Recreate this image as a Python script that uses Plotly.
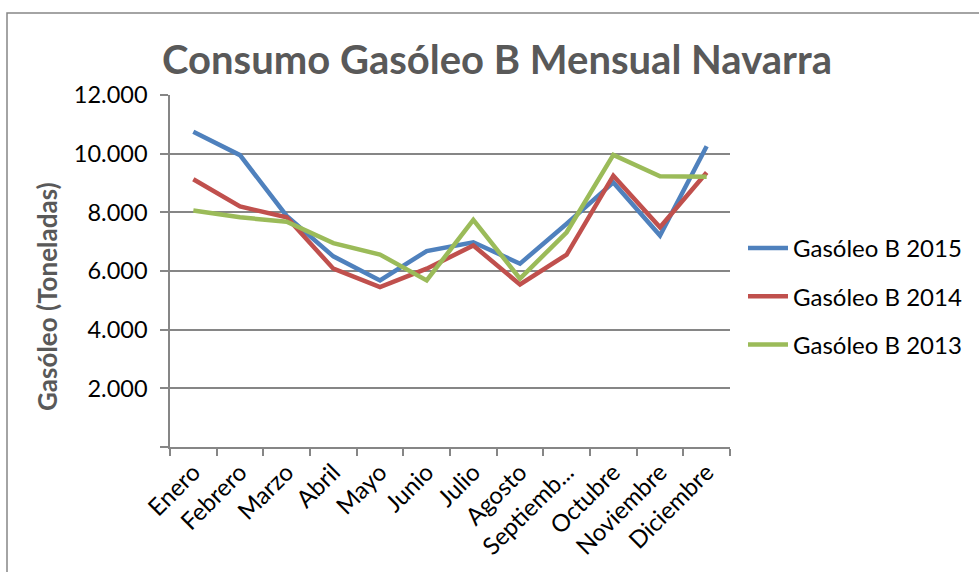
import plotly.graph_objects as go

# Monthly consumption of diesel B (tonnes) in Navarra
months = ["Enero", "Febrero", "Marzo", "Abril", "Mayo", "Junio", "Julio",
          "Agosto", "Septiembre", "Octubre", "Noviembre", "Diciembre"]
month_labels = ["Enero", "Febrero", "Marzo", "Abril", "Mayo", "Junio", "Julio",
                "Agosto", "Septiemb...", "Octubre", "Noviembre", "Diciembre"]

gasoleo_2015 = [10750, 9950, 7880, 6500, 5680, 6680, 6980, 6250, 7610, 9020, 7210, 10250]
gasoleo_2014 = [9130, 8200, 7830, 6080, 5450, 6080, 6870, 5540, 6560, 9250, 7490, 9360]
gasoleo_2013 = [8060, 7830, 7680, 6950, 6560, 5680, 7740, 5740, 7320, 9960, 9230, 9210]

y_ticks = [0, 2000, 4000, 6000, 8000, 10000, 12000]
y_tick_text = ["", "2.000", "4.000", "6.000", "8.000", "10.000", "12.000"]

series = [
    ("Gasóleo B 2015", gasoleo_2015, "#4F81BD"),
    ("Gasóleo B 2014", gasoleo_2014, "#C0504D"),
    ("Gasóleo B 2013", gasoleo_2013, "#9BBB59"),
]

FONT = "Lato"
GRID = "#868686"

fig = go.Figure()
for name, values, color in series:
    fig.add_trace(go.Scatter(
        x=months, y=values, name=name, mode="lines",
        legendgroup=name,
        line=dict(color=color, width=4.5),
    ))

W, H = 979, 572
L, R, T, B = 170, 249, 95, 125
pw, ph = W - L - R, H - T - B

def px_x(p):
    return (p - L) / pw

def px_y(p):
    return 1 - (p - T) / ph

fig.update_layout(
    width=W, height=H,
    margin=dict(l=L, r=R, t=T, b=B),
    paper_bgcolor="white", plot_bgcolor="white",
    font=dict(family=FONT, color="black", size=23),
    title=dict(
        text="<b>Consumo Gasóleo B Mensual Navarra</b>",
        font=dict(family=FONT, size=40, color="#595959"),
        xref="paper", x=px_x(497), xanchor="center",
        yref="container", y=1 - 60 / H, yanchor="middle",
    ),
    showlegend=True,
    legend=dict(
        x=px_x(743), xanchor="left",
        y=px_y(226), yanchor="top",
        font=dict(family=FONT, size=24, color="black"),
        tracegroupgap=14,
        itemwidth=40,
        borderwidth=0,
        bgcolor="rgba(0,0,0,0)",
    ),
    xaxis=dict(
        type="category",
        tickmode="array", tickvals=months, ticktext=month_labels,
        range=[-0.5, 11.5],
        tickangle=-45,
        tickson="boundaries",
        ticks="outside", ticklen=7, tickcolor=GRID, tickwidth=1.5,
        showline=True, linecolor=GRID, linewidth=1.5,
        showgrid=False, zeroline=False,
        tickfont=dict(family=FONT, size=24, color="black"),
    ),
    yaxis=dict(
        range=[0, 12000],
        tickmode="array", tickvals=y_ticks, ticktext=y_tick_text,
        ticks="outside", ticklen=8, tickcolor=GRID, tickwidth=1.5,
        showline=True, linecolor=GRID, linewidth=1.5,
        showgrid=True, gridcolor=GRID, gridwidth=1.5,
        zeroline=False,
        tickfont=dict(family=FONT, size=23.5, color="black"),
        ticklabelstandoff=8,
    ),
)

# Vertical axis title
fig.add_annotation(
    text="<b>Gasóleo (Toneladas)</b>",
    xref="paper", yref="paper",
    x=px_x(47), y=px_y(297),
    xanchor="center", yanchor="middle",
    textangle=-90, showarrow=False,
    font=dict(family=FONT, size=26, color="#595959"),
)

# Chart frame
fig.add_shape(
    type="rect", xref="paper", yref="paper",
    x0=px_x(7), x1=px_x(W + 20), y0=px_y(H + 20), y1=px_y(13),
    line=dict(color=GRID, width=1.5), fillcolor="rgba(0,0,0,0)",
    layer="below",
)

fig.write_html("out.html")
